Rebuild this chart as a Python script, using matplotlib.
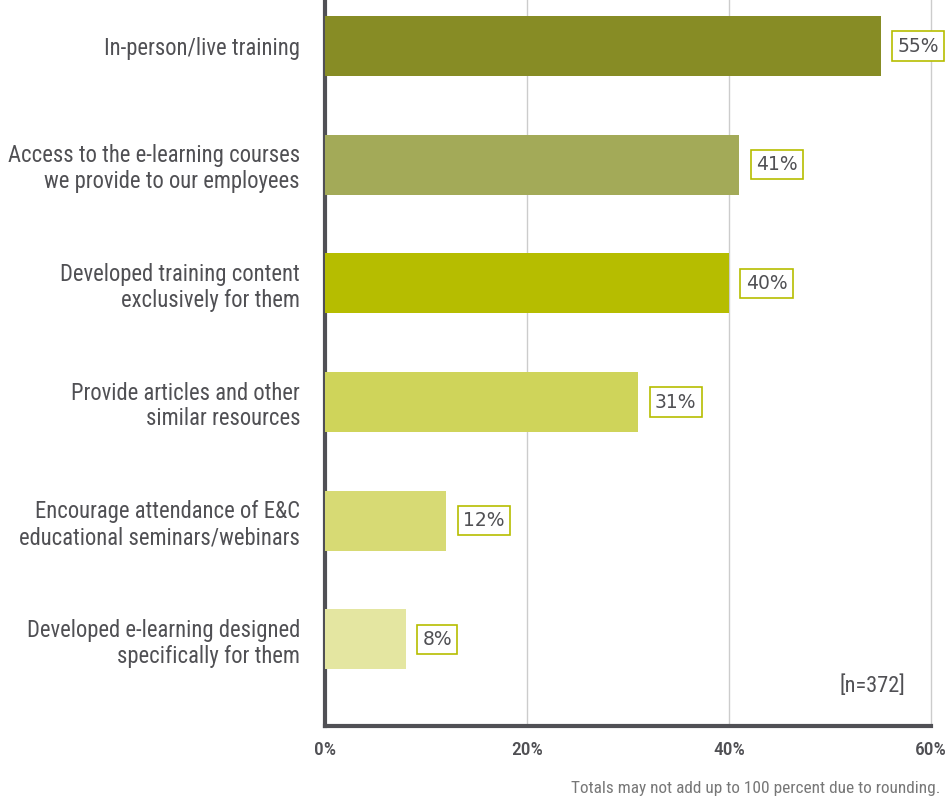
import matplotlib.pyplot as plt

# survey results
categories = [
    "In-person/live training",
    "Access to the e-learning courses\nwe provide to our employees",
    "Developed training content\nexclusively for them",
    "Provide articles and other\nsimilar resources",
    "Encourage attendance of E&C\neducational seminars/webinars",
    "Developed e-learning designed\nspecifically for them",
]
values = [55, 41, 40, 31, 12, 8]
bar_colors = ["#878c25", "#a3aa58", "#b6bd00", "#cfd45a", "#d7da74", "#e4e6a1"]
ticks = [0, 20, 40, 60]

NARROW = ["Roboto Condensed", "Roboto", "DejaVu Sans"]
TEXT = "#505054"

fig = plt.figure(figsize=(9.52, 8.01), dpi=100)
ax = fig.add_axes([325 / 952, 1 - 726 / 801, 606 / 952, 726 / 801])

ypos = list(range(len(values)))
ax.barh(ypos, values, height=0.506, color=bar_colors, zorder=3)

for y, v in zip(ypos, values):
    ax.annotate(f"{v}%", xy=(v, y), xytext=(12, 0), textcoords="offset points",
                ha="left", va="center", fontsize=13.5, color=TEXT,
                family="DejaVu Sans",
                bbox=dict(boxstyle="square,pad=0.28", fc="white", ec="#b6bd00", lw=1.2),
                zorder=4)

ax.set_xlim(0, 60)
ax.set_ylim(5.73, -0.388)
ax.set_xticks(ticks)
ax.set_xticklabels([f"{t}%" for t in ticks], family=NARROW, fontsize=14,
                   color=TEXT, fontweight="medium")
ax.set_yticks(ypos)
ax.set_yticklabels(categories, family=NARROW, fontsize=16.3, color=TEXT,
                   linespacing=1.16)
ax.tick_params(axis="both", length=0)
ax.tick_params(axis="x", pad=11)
ax.tick_params(axis="y", pad=18)

ax.grid(axis="x", color="#cccccc", lw=1, zorder=0)
for gl in ax.get_xgridlines():
    gl.set_clip_on(False)
ax.set_axisbelow(True)
for side in ("top", "right"):
    ax.spines[side].set_visible(False)
for side in ("left", "bottom"):
    ax.spines[side].set_color("#505055")
    ax.spines[side].set_linewidth(3)

ax.text(0.957, 0.055, "[n=372]", transform=ax.transAxes, ha="right", va="center",
        family=NARROW, fontsize=16, color=TEXT)
fig.text(940 / 952, 1 - 789 / 801, "Totals may not add up to 100 percent due to rounding.",
         ha="right", va="center", family=NARROW, fontsize=12.4, color="#777777")

fig.savefig("out.png", dpi=100)
